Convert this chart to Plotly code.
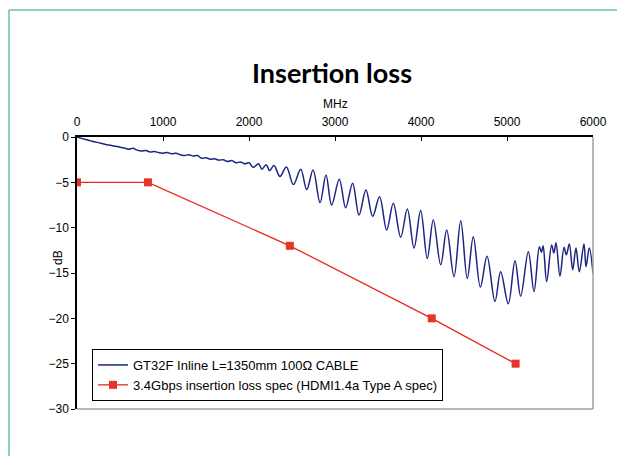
import plotly.graph_objects as go

# Measured cable insertion loss (MHz, dB)
cable_freq = [0, 50, 100, 150, 200, 250, 300, 350, 400, 450, 500, 550, 600, 650, 700, 750, 800,
              850, 900, 950, 1000, 1050, 1100, 1150, 1200, 1250, 1300, 1350, 1400, 1450, 1500,
              1550, 1600, 1650, 1700, 1750, 1800, 1850, 1900, 1950, 2000, 2050, 2110, 2150, 2200,
              2240, 2290, 2360, 2435, 2516, 2601, 2671, 2745, 2826, 2895, 2961, 3050, 3124, 3205,
              3279, 3360, 3438, 3518, 3601, 3678, 3764, 3841, 3919, 3996, 4073, 4143, 4229, 4299,
              4384, 4462, 4538, 4608, 4690, 4768, 4860, 4926, 5015, 5093, 5159, 5248, 5314, 5376,
              5400, 5420, 5461, 5519, 5545, 5570, 5616, 5663, 5690, 5725, 5764, 5802, 5841, 5895,
              5919, 5957, 6000]
cable_db = [0.0, -0.15, -0.28, -0.40, -0.52, -0.62, -0.75, -0.85, -0.95, -1.02, -1.12, -1.22, -1.35,
            -1.25, -1.45, -1.55, -1.50, -1.65, -1.60, -1.72, -1.78, -1.70, -1.85, -1.80, -1.95, -2.05,
            -1.95, -2.10, -2.05, -2.35, -2.30, -2.45, -2.40, -2.55, -2.50, -2.70, -2.60, -2.85, -2.75,
            -2.95, -2.85, -3.35, -2.95, -3.55, -3.05, -3.70, -3.15, -4.35, -3.30, -5.25, -3.55, -5.80,
            -3.65, -7.25, -4.20, -7.50, -4.65, -7.80, -5.10, -8.60, -5.85, -8.75, -6.60, -10.25, -7.30,
            -11.05, -7.95, -12.25, -8.10, -13.40, -9.15, -14.10, -10.25, -15.40, -9.25, -15.60, -11.00,
            -16.55, -13.15, -18.15, -14.85, -18.40, -13.65, -17.55, -12.65, -17.05, -12.10, -12.70,
            -12.00, -15.95, -11.90, -12.80, -11.65, -15.35, -12.15, -13.00, -11.80, -14.65, -12.25,
            -14.85, -11.80, -14.30, -12.25, -15.05]

# HDMI 1.4a spec limit
spec_freq = [0, 825, 2475, 4125, 5100]
spec_db = [-5, -5, -12, -20, -25]

x_ticks = [0, 1000, 2000, 3000, 4000, 5000, 6000]
y_ticks = [0, -5, -10, -15, -20, -25, -30]

fig = go.Figure()
fig.add_trace(go.Scatter(
    x=cable_freq, y=cable_db, mode="lines",
    name="GT32F Inline L=1350mm 100Ω CABLE",
    line=dict(color="#1c2583", width=1.5, shape="spline", smoothing=1.0),
))
fig.add_trace(go.Scatter(
    x=spec_freq, y=spec_db, mode="lines+markers",
    name="3.4Gbps insertion loss spec (HDMI1.4a Type A spec)",
    line=dict(color="#e8281e", width=1.3),
    marker=dict(symbol="square", size=8, color="#e8352a"),
))

# page offset (browser body margin)
OFF = 8
W, H = 625 - OFF, 456 - OFF
# plot area in page pixels: x 77..593, y 137..409
L, R, T, B = 77 - OFF, W - (593 - OFF), 137 - OFF, H - (409 - OFF)
pw, ph = W - L - R, H - T - B

def px(x):
    return (x - OFF - L) / pw

def py(y):
    return (H - B - (y - OFF)) / ph

shapes = [
    dict(type="line", xref="paper", yref="paper", x0=1, x1=1, y0=0, y1=1,
         line=dict(color="#a0a0a0", width=1.5)),
    dict(type="line", xref="paper", yref="paper", x0=0, x1=1, y0=0, y1=0,
         line=dict(color="#a0a0a0", width=1.5)),
    dict(type="line", xref="paper", yref="paper", x0=px(9), x1=px(640), y0=py(10), y1=py(10),
         line=dict(color="#66c48f", width=1.5)),
    dict(type="line", xref="paper", yref="paper", x0=px(9), x1=px(9), y0=py(10), y1=py(470),
         line=dict(color="#66c48f", width=1.5)),
]

fig.update_layout(
    width=W, height=H,
    margin=dict(l=L, r=R, t=T, b=B, autoexpand=False),
    paper_bgcolor="white", plot_bgcolor="white",
    font=dict(family="Liberation Sans", size=12, color="black"),
    showlegend=True,
    legend=dict(x=px(92), y=py(349), xanchor="left", yanchor="top",
                bordercolor="black", borderwidth=1, bgcolor="white",
                font=dict(family="Liberation Sans", size=13), itemwidth=30,
                tracegroupgap=0),
    shapes=shapes,
    annotations=[
        dict(text="<b>Insertion loss</b>", x=px(332), y=py(73), xref="paper", yref="paper",
             showarrow=False, font=dict(family="Lato", size=27, color="black"),
             xanchor="center", yanchor="middle"),
        dict(text="dB", x=px(58), y=py(258), xref="paper", yref="paper",
             showarrow=False, textangle=-90, font=dict(size=12, color="black"),
             xanchor="center", yanchor="middle"),
        dict(text="MHz", x=0.5, y=py(104), xref="paper", yref="paper",
             showarrow=False, font=dict(size=12, color="black"),
             xanchor="center", yanchor="middle"),
    ],
)
fig.update_xaxes(
    range=[0, 6000], side="top", tickvals=x_ticks, ticks="inside", ticklen=4,
    tickcolor="black", showline=True, linecolor="black", linewidth=1.5,
    showgrid=False, zeroline=False, ticklabelstandoff=4,
    tickfont=dict(size=12),
)
fig.update_yaxes(
    range=[-30, 0], tickvals=y_ticks, ticks="outside", ticklen=4,
    tickcolor="black", showline=True, linecolor="black", linewidth=1.5,
    showgrid=False, zeroline=False,
    tickfont=dict(size=12),
)

fig.write_html("out.html")
